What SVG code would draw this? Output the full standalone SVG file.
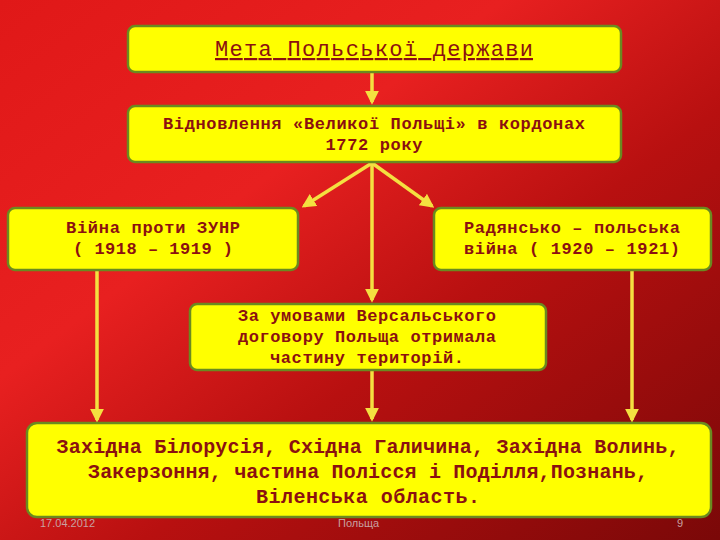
<svg xmlns="http://www.w3.org/2000/svg" width="720" height="540" viewBox="0 0 720 540">
<defs>
<linearGradient id="bg" x1="0" y1="0" x2="1" y2="1">
<stop offset="0" stop-color="#e01818"/><stop offset="0.35" stop-color="#e82020"/><stop offset="0.6" stop-color="#b81010"/><stop offset="1" stop-color="#7a0808"/>
</linearGradient>
<marker id="ah" viewBox="0 0 10 10" refX="8" refY="5" markerWidth="4" markerHeight="4" orient="auto"><path d="M0,0 L10,5 L0,10 z" fill="#f4e040"/></marker>
<style>
.box{fill:#ffff00;stroke:#6a8a20;stroke-width:2.5}
.t{font-family:"Liberation Mono",monospace;font-weight:bold;fill:#8b1010;text-anchor:middle;font-size:17px}
.c{stroke:#f4e040;stroke-width:3.5;fill:none;marker-end:url(#ah)}
.f{font-family:"Liberation Sans",sans-serif;fill:#c8a0a0;font-size:11px}
</style>
</defs>
<rect width="720" height="540" fill="url(#bg)"/>
<g id="connectors">
<line class="c" x1="372" y1="72" x2="372" y2="102"/>
<line class="c" x1="372" y1="163" x2="304" y2="206"/>
<line class="c" x1="372" y1="163" x2="372" y2="300"/>
<line class="c" x1="372" y1="163" x2="432" y2="206"/>
<line class="c" x1="97" y1="270" x2="97" y2="420"/>
<line class="c" x1="632" y1="270" x2="632" y2="420"/>
<line class="c" x1="372" y1="371" x2="372" y2="419"/>
</g>
<g id="n1"><rect class="box" x="128" y="26" width="493" height="46" rx="7"/><text class="t" x="374" y="56" textLength="318" style="font-weight:normal;font-size:22px;text-decoration:underline">Мета Польської держави</text></g>
<g id="n2"><rect class="box" x="128" y="106" width="493" height="56" rx="7"/><text class="t" x="374" y="129" textLength="422">Відновлення «Великої Польщі» в кордонах</text><text class="t" x="374" y="150" textLength="97">1772 року</text></g>
<g id="n3"><rect class="box" x="8" y="208" width="290" height="62" rx="7"/><text class="t" x="153" y="233" textLength="174">Війна проти ЗУНР</text><text class="t" x="153" y="254" textLength="160">( 1918 – 1919 )</text></g>
<g id="n4"><rect class="box" x="434" y="208" width="277" height="62" rx="7"/><text class="t" x="572" y="233" textLength="216">Радянсько – польська</text><text class="t" x="572" y="254" textLength="216">війна ( 1920 – 1921)</text></g>
<g id="n5"><rect class="box" x="190" y="304" width="356" height="66" rx="7"/><text class="t" x="367" y="321" textLength="258">За умовами Версальського</text><text class="t" x="367" y="342" textLength="258">договору Польща отримала</text><text class="t" x="367" y="363" textLength="194">частину територій.</text></g>
<g id="n6"><rect class="box" x="27" y="423" width="684" height="94" rx="10"/><text class="t" x="368" y="453" textLength="623" style="font-size:20px">Західна Білорусія, Східна Галичина, Західна Волинь,</text><text class="t" x="368" y="478" textLength="560" style="font-size:20px">Закерзоння, частина Полісся і Поділля,Познань,</text><text class="t" x="368" y="503" textLength="224" style="font-size:20px">Віленська область.</text></g>
<text class="f" x="40" y="527">17.04.2012</text>
<text class="f" x="338" y="527">Польща</text>
<text class="f" x="677" y="527">9</text>
</svg>
